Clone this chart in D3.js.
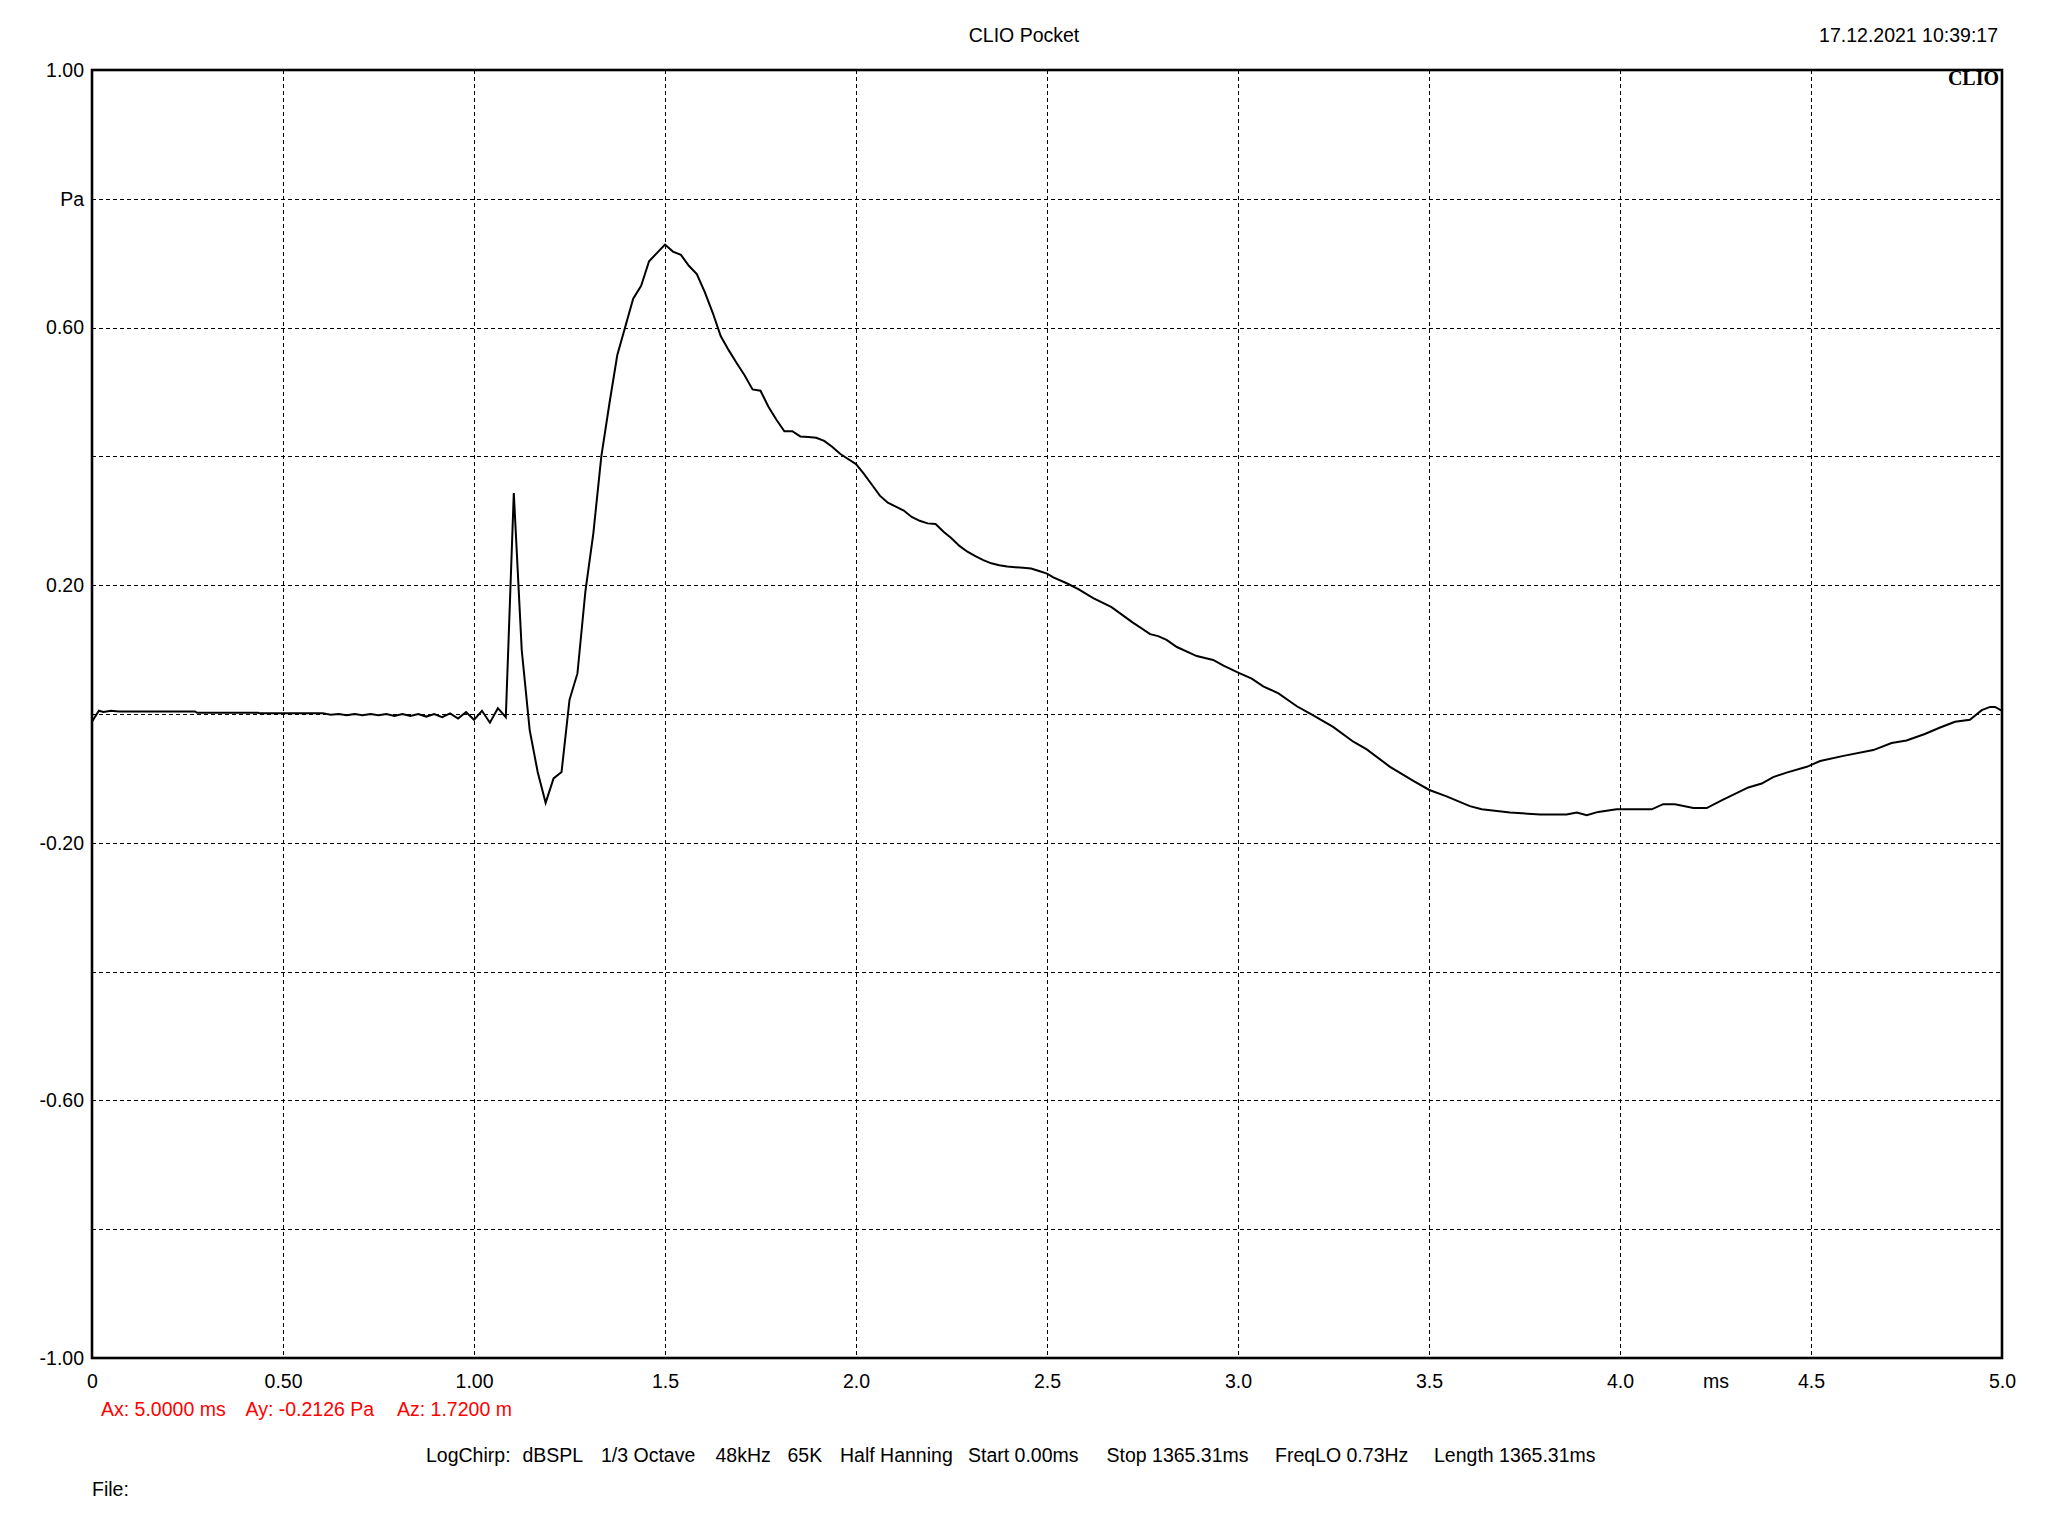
<!DOCTYPE html>
<html>
<head>
<meta charset="utf-8">
<script src="https://cdn.jsdelivr.net/npm/d3@7"></script>
<style>
  html, body { margin: 0; padding: 0; background: #fff; }
  svg { display: block; }
  text { font-family: "Liberation Sans", Arial, sans-serif; }
</style>
</head>
<body>
<svg id="chart" width="2048" height="1536"></svg>
<script>
// ---- data ----
const timeMs = [0, 0.018, 0.03, 0.05, 0.07, 0.27, 0.275, 0.435, 0.44, 0.604, 0.625, 0.6458, 0.6667, 0.6875, 0.7083, 0.7292, 0.75, 0.7708, 0.7917, 0.8125, 0.8333, 0.8542, 0.875, 0.8958, 0.9167, 0.9375, 0.9583, 0.9792, 1.0, 1.0208, 1.0417, 1.0625, 1.0833, 1.1042, 1.125, 1.1458, 1.1667, 1.1875, 1.2083, 1.2292, 1.25, 1.2708, 1.2917, 1.3125, 1.3333, 1.3542, 1.375, 1.3958, 1.4167, 1.4375, 1.4583, 1.4792, 1.5, 1.5208, 1.5417, 1.5625, 1.5833, 1.6042, 1.625, 1.6458, 1.6667, 1.6875, 1.7083, 1.7292, 1.75, 1.7708, 1.7917, 1.8125, 1.8333, 1.8542, 1.875, 1.8958, 1.9167, 1.9375, 1.9583, 1.9792, 2.0, 2.0208, 2.0417, 2.0625, 2.0833, 2.1042, 2.125, 2.1458, 2.1667, 2.1875, 2.2083, 2.2292, 2.25, 2.2708, 2.2917, 2.3125, 2.3333, 2.3542, 2.375, 2.3958, 2.4167, 2.4375, 2.4583, 2.4792, 2.5, 2.5165, 2.5516, 2.582, 2.621, 2.669, 2.722, 2.770, 2.791, 2.813, 2.840, 2.892, 2.935, 2.962, 3.002, 3.036, 3.066, 3.106, 3.154, 3.197, 3.249, 3.302, 3.337, 3.398, 3.459, 3.501, 3.546, 3.607, 3.638, 3.712, 3.791, 3.860, 3.887, 3.913, 3.943, 3.991, 4.083, 4.113, 4.144, 4.192, 4.227, 4.266, 4.336, 4.371, 4.401, 4.436, 4.489, 4.524, 4.585, 4.663, 4.711, 4.750, 4.798, 4.838, 4.877, 4.916, 4.947, 4.969, 4.982, 5.0];

const pressurePa = [-0.012, 0.005, 0.003, 0.005, 0.004, 0.004, 0.002, 0.002, 0.001, 0.001, -0.001, 0.000, -0.002, 0.000, -0.002, 0.000, -0.002, 0.000, -0.003, 0.000, -0.003, 0.000, -0.004, 0.000, -0.005, 0.001, -0.007, 0.003, -0.009, 0.005, -0.0135, 0.009, -0.005, 0.343, 0.099, -0.025, -0.090, -0.138, -0.100, -0.090, 0.022, 0.063, 0.191, 0.281, 0.400, 0.481, 0.557, 0.601, 0.645, 0.665, 0.703, 0.716, 0.729, 0.718, 0.713, 0.696, 0.683, 0.655, 0.623, 0.587, 0.565, 0.545, 0.526, 0.504, 0.502, 0.477, 0.457, 0.439, 0.439, 0.431, 0.430, 0.429, 0.424, 0.415, 0.404, 0.396, 0.388, 0.373, 0.356, 0.339, 0.328, 0.322, 0.316, 0.306, 0.300, 0.296, 0.295, 0.283, 0.273, 0.261, 0.252, 0.245, 0.239, 0.234, 0.231, 0.229, 0.228, 0.227, 0.226, 0.222, 0.218, 0.212, 0.203, 0.194, 0.180, 0.166, 0.143, 0.124, 0.121, 0.115, 0.104, 0.090, 0.084, 0.075, 0.064, 0.055, 0.043, 0.032, 0.012, -0.002, -0.020, -0.043, -0.055, -0.082, -0.104, -0.118, -0.128, -0.143, -0.148, -0.153, -0.156, -0.156, -0.153, -0.157, -0.152, -0.148, -0.148, -0.140, -0.140, -0.146, -0.146, -0.134, -0.114, -0.108, -0.098, -0.091, -0.082, -0.073, -0.065, -0.056, -0.045, -0.041, -0.031, -0.021, -0.012, -0.009, 0.006, 0.011, 0.011, 0.005];

const xTickValues = [0, 0.5, 1, 1.5, 2, 2.5, 3, 3.5, 4, 4.25, 4.5, 5];
const xTickLabels = ["0", "0.50", "1.00", "1.5", "2.0", "2.5", "3.0", "3.5", "4.0", "ms", "4.5", "5.0"];
const yTickValues = [1, 0.8, 0.6, 0.2, -0.2, -0.6, -1];
const yTickLabels = ["1.00", "Pa", "0.60", "0.20", "-0.20", "-0.60", "-1.00"];
const xGridValues = [0.5, 1, 1.5, 2, 2.5, 3, 3.5, 4, 4.5];
const yGridValues = [0.8, 0.6, 0.4, 0.2, 0, -0.2, -0.4, -0.6, -0.8];

const titleText = "CLIO Pocket";
const dateText = "17.12.2021 10:39:17";
const cursorTokens = ["Ax: 5.0000 ms", "Ay: -0.2126 Pa", "Az: 1.7200 m"];
const infoTokens = ["LogChirp:", "dBSPL", "1/3 Octave", "48kHz", "65K", "Half Hanning", "Start 0.00ms", "Stop 1365.31ms", "FreqLO 0.73Hz", "Length 1365.31ms"];
const fileText = "File:";

// ---- layout ----
const L = 92, R = 2002, T = 70, B = 1358;
const svg = d3.select("#chart");
const x = d3.scaleLinear().domain([0, 5]).range([L, R]);
const y = d3.scaleLinear().domain([-1, 1]).range([B, T]);
const FS = 19.5;

// grid
const grid = svg.append("g").attr("stroke", "#000").attr("stroke-width", 1)
  .attr("stroke-dasharray", "4,3").attr("shape-rendering", "crispEdges");
grid.selectAll("line.v").data(xGridValues).join("line")
  .attr("x1", d => Math.round(x(d)) + 0.5).attr("x2", d => Math.round(x(d)) + 0.5)
  .attr("y1", T).attr("y2", B);
grid.selectAll("line.h").data(yGridValues).join("line")
  .attr("x1", L).attr("x2", R)
  .attr("y1", d => Math.round(y(d)) + 0.5).attr("y2", d => Math.round(y(d)) + 0.5);

// clip
svg.append("clipPath").attr("id", "clip").append("rect")
  .attr("x", L).attr("y", T).attr("width", R - L).attr("height", B - T);

// curve
const pts = timeMs.map((t, i) => [t, pressurePa[i]]);
svg.append("path")
  .attr("clip-path", "url(#clip)")
  .attr("d", d3.line().x(d => x(d[0])).y(d => y(d[1]))(pts))
  .attr("fill", "none").attr("stroke", "#000").attr("stroke-width", 2)
  .attr("stroke-linejoin", "miter");

// frame
svg.append("rect").attr("x", L).attr("y", T).attr("width", R - L).attr("height", B - T)
  .attr("fill", "none").attr("stroke", "#000").attr("stroke-width", 2.6);

// axes
const xAxis = svg.append("g").attr("transform", `translate(0,${B})`)
  .call(d3.axisBottom(x).tickValues(xTickValues).tickFormat((d, i) => xTickLabels[i]).tickSize(0).tickPadding(16));
xAxis.select(".domain").remove();
xAxis.selectAll("text").attr("font-size", FS).attr("font-family", "Liberation Sans, Arial, sans-serif").attr("fill", "#000");

const yAxis = svg.append("g").attr("transform", `translate(${L},0)`)
  .call(d3.axisLeft(y).tickValues(yTickValues).tickFormat((d, i) => yTickLabels[i]).tickSize(0).tickPadding(8));
yAxis.select(".domain").remove();
yAxis.selectAll("text").attr("font-size", FS).attr("font-family", "Liberation Sans, Arial, sans-serif").attr("fill", "#000");

// header
svg.append("text").attr("x", 1024).attr("y", 42).attr("text-anchor", "middle")
  .attr("font-size", FS).text(titleText);
svg.append("text").attr("x", 1998).attr("y", 42).attr("text-anchor", "end")
  .attr("font-size", FS).text(dateText);
svg.append("text").attr("x", 1999).attr("y", 85).attr("text-anchor", "end")
  .attr("font-size", 20).attr("font-weight", "bold")
  .style("font-family", "'Liberation Serif', 'Times New Roman', serif").text("CLIO");

// cursor readout (red)
const cursorX = [101, 245.5, 397];
svg.append("text").attr("y", 1416).attr("font-size", FS).attr("fill", "#ff0000")
  .selectAll("tspan").data(cursorTokens).join("tspan")
  .attr("x", (d, i) => cursorX[i]).text(d => d);

// info line
const infoX = [426, 522.5, 601, 715.5, 787.5, 840, 968, 1106.5, 1275, 1434];
svg.append("text").attr("y", 1462).attr("font-size", FS).attr("fill", "#000")
  .selectAll("tspan").data(infoTokens).join("tspan")
  .attr("x", (d, i) => infoX[i]).text(d => d);

svg.append("text").attr("x", 92).attr("y", 1496).attr("font-size", FS).text(fileText);
</script>
</body>
</html>
